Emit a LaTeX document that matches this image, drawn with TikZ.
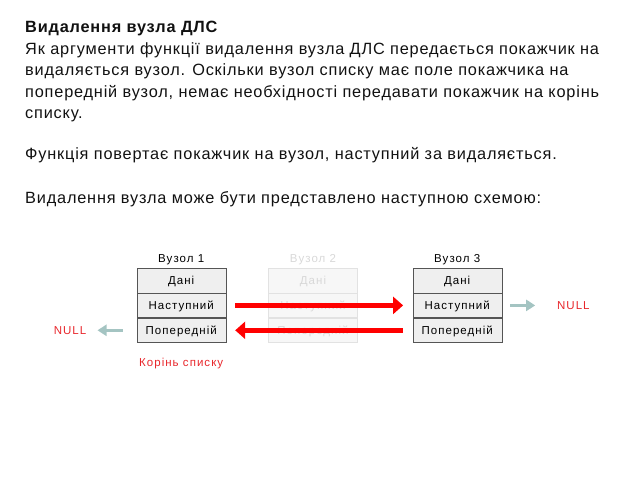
\documentclass[tikz,border=0pt]{standalone}
\usepackage{fontspec}
\setmainfont{Liberation Sans}
\newfontfamily\bodyfont[LetterSpace=5]{Liberation Sans}
\newfontfamily\diagfont[LetterSpace=9]{Liberation Sans}
\usetikzlibrary{arrows.meta,positioning}
\definecolor{cellfill}{HTML}{EFEFEF}
\definecolor{cellline}{HTML}{555555}
\definecolor{ghostfill}{HTML}{F7F7F7}
\definecolor{ghostline}{HTML}{E2E2E2}
\definecolor{ghosttext}{HTML}{D8D8D8}
\definecolor{arrowred}{HTML}{FF0000}
\definecolor{nullred}{HTML}{E8262B}
\definecolor{nullarrow}{HTML}{A4C4C2}
\definecolor{bodytext}{HTML}{111111}

\begin{document}
\begin{tikzpicture}[x=1pt,y=-1pt,
  cell/.style={draw=cellline,fill=cellfill,minimum width=89pt,minimum height=24.5pt,
    inner sep=0pt,text height=8.4pt,text depth=0pt,
    font=\diagfont\fontsize{11.5}{12}\selectfont,text=black},
  ghost/.style={cell,draw=ghostline,fill=ghostfill,text=ghosttext},
  caption/.style={inner sep=0pt,font=\diagfont\fontsize{11.5}{12}\selectfont},
  nulltext/.style={inner sep=0pt,text=nullred,font=\diagfont\fontsize{11.5}{12}\selectfont},
  redarrow/.style={draw=arrowred,line width=4.5pt,-{Triangle[length=10pt,width=17pt]}},
  tealarrow/.style={draw=nullarrow,line width=3pt,-{Triangle[length=9pt,width=11pt]}},
  line/.style={anchor=base west,inner sep=0pt,text=bodytext,font=\bodyfont\fontsize{16.3}{20}\selectfont}]
  \useasboundingbox (0,0) rectangle (640,480);

  % text above the scheme
  \node[line,font=\bodyfont\bfseries\fontsize{16.3}{20}\selectfont] (title) at (25,32.6) {Видалення вузла ДЛС};
  \foreach \y/\txt in {54.1/{Як аргументи функції видалення вузла ДЛС передається покажчик на},
                       75.6/{видаляється вузол. Оскільки вузол списку має поле покажчика на},
                       97.1/{попередній вузол, немає необхідності передавати покажчик на корінь},
                       118.4/{списку.},
                       159/{Функція повертає покажчик на вузол, наступний за видаляється.},
                       203/{Видалення вузла може бути представлено наступною схемою:}}
    \node[line] at (25,\y) {\txt};

  % node 1
  \node[cell] (n1d) at (181.2,280.5) {Дані};
  \node[cell,below=0pt of n1d] (n1n) {Наступний};
  \node[cell,below=0pt of n1n] (n1p) {Попередній};
  \node[caption,above=3pt of n1d] (t1) {Вузол 1};

  % node 2 (removed)
  \node[ghost] (n2d) at (313,280.5) {Дані};
  \node[ghost,below=0pt of n2d] (n2n) {Наступний};
  \node[ghost,below=0pt of n2n] (n2p) {Попередній};
  \node[caption,text=ghosttext,above=3pt of n2d] (t2) {Вузол 2};

  % node 3
  \node[cell] (n3d) at (457.2,280.5) {Дані};
  \node[cell,below=0pt of n3d] (n3n) {Наступний};
  \node[cell,below=0pt of n3n] (n3p) {Попередній};
  \node[caption,above=3pt of n3d] (t3) {Вузол 3};

  \node[nulltext,left=50pt of n1p] (nullL) {NULL};
  \node[nulltext,right=55pt of n3n] (nullR) {NULL};
  \node[nulltext,below=15pt of n1p] (root) {Корінь списку};

  \draw[redarrow,shorten <=9.3pt,shorten >=9.4pt] (n1n) -- (n3n);
  \draw[redarrow,shorten <=10pt,shorten >=9.3pt] (n3p) -- (n1p);
  \draw[tealarrow,shorten <=14pt,shorten >=11pt] (n1p) -- (nullL);
  \draw[tealarrow,shorten <=8.3pt,shorten >=21.7pt] (n3n) -- (nullR);
\end{tikzpicture}
\end{document}
